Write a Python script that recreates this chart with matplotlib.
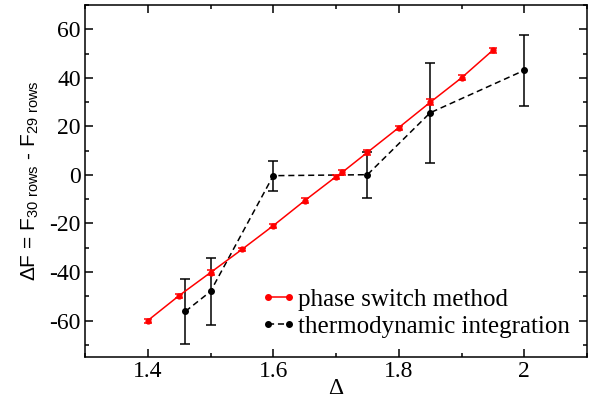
import matplotlib

matplotlib.use("Agg")
import matplotlib.pyplot as plt
from matplotlib.lines import Line2D
from matplotlib.ticker import MultipleLocator

# phase switch method
ps_delta = [1.40, 1.45, 1.50, 1.55, 1.60, 1.65, 1.70, 1.71, 1.75, 1.80, 1.85, 1.90, 1.95]
ps_df = [-60.0, -49.7, -40.2, -30.7, -20.9, -10.6, -0.7, 1.1, 9.3, 19.5, 29.9, 40.0, 51.4]
ps_err = [0.8, 0.8, 1.2, 0.8, 0.8, 0.9, 0.8, 1.0, 1.0, 0.8, 1.2, 1.0, 1.0]

# thermodynamic integration
ti_delta = [1.46, 1.50, 1.60, 1.75, 1.85, 2.00]
ti_df = [-56.2, -48.0, -0.3, 0.1, 25.6, 43.1]
ti_err = [13.3, 13.9, 6.2, 9.4, 20.7, 14.6]

plt.rcParams["font.family"] = "Liberation Serif"
plt.rcParams["font.size"] = 17
plt.rcParams["axes.unicode_minus"] = False

fig = plt.figure(figsize=(5.92, 4.08), dpi=100)
ax = fig.add_axes([0.1436, 0.125, 0.848, 0.8627])

dash = (0, (4, 2.5))
ax.errorbar(ps_delta, ps_df, yerr=ps_err, color="red", marker="o", markersize=3.5,
            linewidth=1.1, elinewidth=1.1, capsize=3, capthick=1.1, zorder=3)
ax.errorbar(ti_delta, ti_df, yerr=ti_err, color="black", marker="o", markersize=4,
            linewidth=1.1, linestyle=dash, elinewidth=1.1, capsize=3.5,
            capthick=1.1, zorder=2)

ax.set_xlim(1.3, 2.1)
ax.set_ylim(-75, 70)
ax.xaxis.set_minor_locator(MultipleLocator(0.1))
ax.yaxis.set_major_locator(MultipleLocator(20))
ax.yaxis.set_minor_locator(MultipleLocator(10))
ax.set_xticks([1.4, 1.6, 1.8, 2.0])
ax.set_xticklabels(["1.4", "1.6", "1.8", "2"])
ax.tick_params(which="both", direction="in", top=True, right=True, width=1.1, labelsize=17)
ax.tick_params(which="major", length=6, pad=3)
ax.tick_params(which="minor", length=3)
for spine in ax.spines.values():
    spine.set_linewidth(1.1)

ax.set_xlabel("\u0394", labelpad=-3, fontsize=17)
ax.set_ylabel("\u0394F = F$_{\\mathregular{30\\ rows}}$ - F$_{\\mathregular{29\\ rows}}$",
              fontfamily="Liberation Sans", fontsize=15, labelpad=6)

handles = [
    Line2D([], [], color="red", marker="o", markersize=4, linewidth=1.1),
    Line2D([], [], color="black", marker="o", markersize=4, linewidth=1.1, linestyle=dash),
]
ax.legend(handles, ["phase switch method", "thermodynamic integration"],
          loc="center left", bbox_to_anchor=(0.35, 0.125), frameon=False, numpoints=2,
          handlelength=1.45, handletextpad=0.05, labelspacing=0.18, fontsize=18,
          borderpad=0, borderaxespad=0)

fig.savefig("out.png", dpi=100)
